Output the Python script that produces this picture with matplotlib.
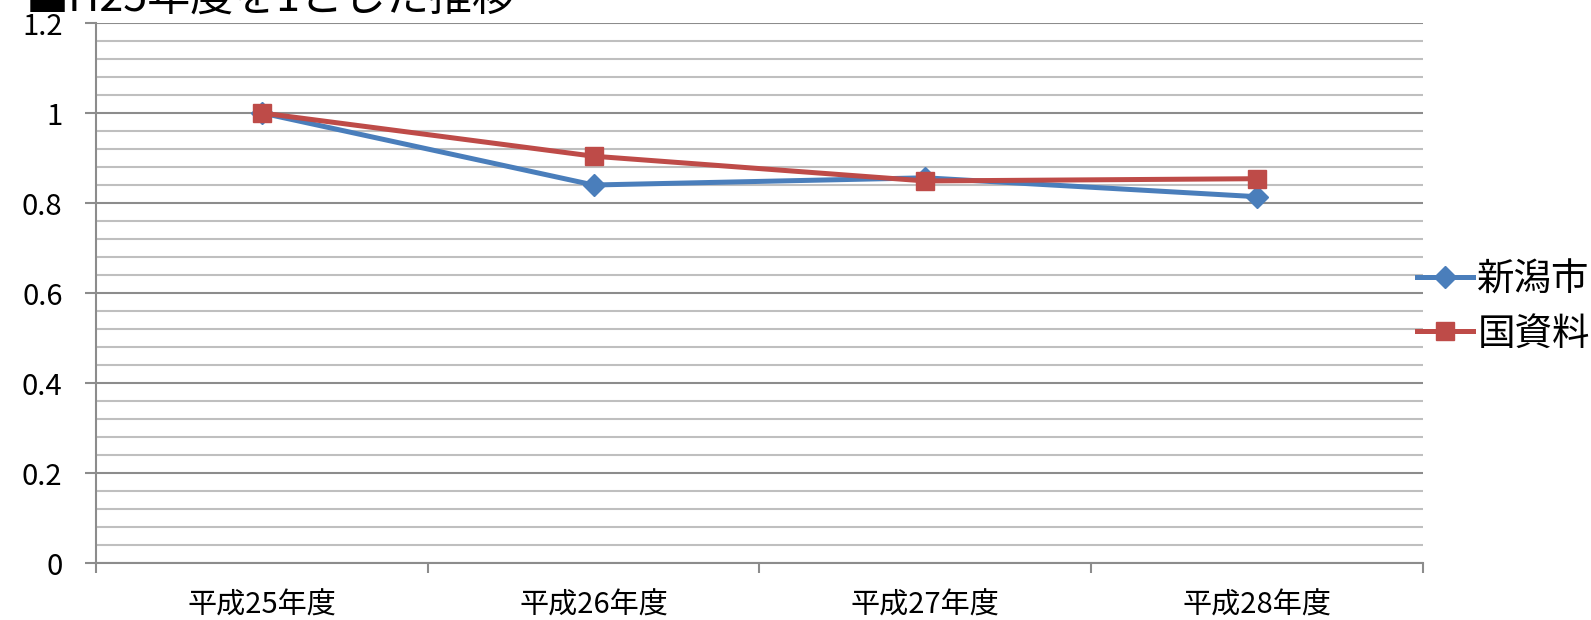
import matplotlib
matplotlib.use("Agg")
import matplotlib.pyplot as plt
from matplotlib.ticker import FixedLocator, MultipleLocator

plt.rcParams['font.family'] = ['Noto Sans CJK JP', 'DejaVu Sans']

years = ['平成25年度', '平成26年度', '平成27年度', '平成28年度']
niigata = [1.0, 0.84, 0.856, 0.814]
kuni = [1.0, 0.904, 0.849, 0.854]
yticks = [0, 0.2, 0.4, 0.6, 0.8, 1.0, 1.2]
ylabels = ['0', '0.2', '0.4', '0.6', '0.8', '1', '1.2']

fig = plt.figure(figsize=(15.91, 6.2), dpi=100)
ax = fig.add_axes([0.0603, 0.0919, 0.8341, 0.871])

x = list(range(len(years)))
ax.plot(x, niigata, color='#4A7EBB', lw=3.6, marker='D', ms=11,
        label='新潟市', zorder=3)
ax.plot(x, kuni, color='#BE4B48', lw=3.6, marker='s', ms=13,
        label='国資料', zorder=4)

ax.set_xlim(-0.5, len(years) - 0.5)
ax.set_ylim(0, 1.2)
ax.set_yticks(yticks)
ax.set_yticklabels(ylabels)
ax.yaxis.set_minor_locator(MultipleLocator(0.04))
ax.set_xticks(x)
ax.set_xticklabels(years)
ax.xaxis.set_minor_locator(FixedLocator([i - 0.5 for i in range(len(years) + 1)]))

ax.grid(axis='y', which='major', color='#8C8C8C', lw=1.5)
ax.grid(axis='y', which='minor', color='#BFBFBF', lw=1.5)
ax.set_axisbelow(True)

for s in ['top', 'right']:
    ax.spines[s].set_visible(False)
for s in ['left', 'bottom']:
    ax.spines[s].set_color('#8C8C8C')
    ax.spines[s].set_linewidth(1.5)

ax.tick_params(axis='y', which='major', length=8, width=1.5, color='#8C8C8C',
               labelsize=21, pad=16)
ax.tick_params(axis='y', which='minor', length=0)
ax.tick_params(axis='x', which='major', length=0, labelsize=21, pad=19.5)
ax.tick_params(axis='x', which='minor', length=7, width=1.5, color='#8C8C8C')

fig.legend(loc='center left', bbox_to_anchor=(0.881, 0.505), frameon=False,
           fontsize=27, handlelength=1.5, handletextpad=0.12, labelspacing=0.4,
           borderaxespad=0)

# title sits mostly above the top edge, as in the source image
fig.text(0.016, 1 - 12 / 620, '■H25年度を1とした推移', fontsize=31,
         va='baseline', ha='left')

fig.savefig('out.png', dpi=100)
